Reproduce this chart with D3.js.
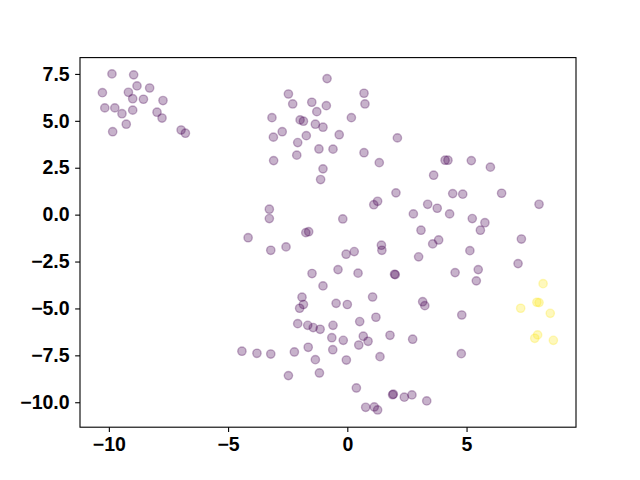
<!DOCTYPE html>
<html>
<head>
<meta charset="utf-8">
<script src="https://cdn.jsdelivr.net/npm/d3@7"></script>
<style>
  body { margin: 0; background: #fff; }
</style>
</head>
<body>
<div id="chart"></div>
<script>
var w = 640,
  h = 480;

// scatter points
var xs = [-9.87, -8.96, -8.82, -8.29, -10.27, -9.18, -9.00, -8.55, -7.73, -10.17,
  -9.75, -9.45, -9.00, -7.98, -7.77, -9.27, -9.84, -6.97, -6.79,
  -0.85, -2.47, 0.70, -2.29, -1.49, -0.88, 0.74, -1.28, -3.16, -1.98,
  -1.84, -1.34, -1.02, 0.17, -2.73, -3.10, -1.72, -0.34, 2.10, -2.08,
  -1.19, -0.60, 0.70, -2.12, -3.09, 1.34, -1.02, -1.12,
  4.10, 4.22, 5.20, 6.00, 3.62,
  2.04, 1.27, 1.11, -3.27, -3.27, 2.77, -0.19, -1.74, -1.62, -4.16,
  -3.21, -2.57, -0.05, 0.29, 1.43, 1.45, -1.48, -0.39, 0.45, 2.01,
  1.98, -1.02, -1.90, 1.06, -0.47, 0.00, -1.84, -2.00, 3.16, 3.25,
  -2.08, -1.66, -1.43, -1.14, -0.60, 0.52, 1.20, -0.65, -0.17, 0.67,
  0.87, 0.48, 1.79, 2.74, -3.79, -3.21, -2.22, -1.64, -0.61, -1.34,
  -0.04, 1.37, -2.47, -1.17, 0.38, 1.93, 1.90, 2.39, 2.71, 0.77,
  1.13, 1.27, -4.42,
  4.42, 4.84, 6.47, 8.04, 3.37, 3.77, 4.29, 5.24, 5.77, 5.58,
  3.09, 3.83, 3.58, 7.30, 5.14, 2.99, 7.16, 5.49, 4.52, 5.41,
  4.80, 4.78, 3.33,
  8.21, 7.27, 7.95, 8.04, 8.51, 7.98, 7.86, 8.64];

var ys = [7.50, 7.45, 6.86, 6.75, 6.50, 6.52, 6.18, 6.15, 6.08, 5.69,
  5.69, 5.38, 5.57, 5.46, 5.15, 4.82, 4.42, 4.51, 4.34,
  7.25, 6.43, 6.47, 5.90, 5.99, 5.81, 5.90, 5.49, 5.17, 5.05,
  4.98, 4.82, 4.66, 5.17, 4.42, 4.13, 4.21, 4.26, 4.09, 3.84,
  3.50, 3.49, 3.30, 3.17, 2.88, 2.77, 2.44, 1.87,
  2.90, 2.90, 2.88, 2.53, 2.10,
  1.16, 0.71, 0.53, 0.29, -0.21, 0.04, -0.23, -0.96, -0.91, -1.23,
  -1.90, -1.72, -2.11, -1.97, -1.63, -1.90, -3.14, -2.93, -3.12, -3.20,
  -3.18, -3.80, -4.40, -4.39, -4.73, -4.79, -4.79, -4.99, -4.64, -4.85,
  -5.81, -5.90, -6.02, -6.11, -5.90, -5.70, -5.47, -6.56, -6.70, -6.48,
  -6.75, -6.95, -6.43, -6.64, -7.39, -7.43, -7.32, -7.07, -7.20, -7.73,
  -7.75, -7.57, -8.58, -8.44, -9.24, -9.57, -9.60, -9.73, -9.61, -10.27,
  -10.25, -10.41, -7.28,
  1.12, 1.09, 1.14, 0.55, 0.55, 0.34, 0.04, -0.21, -0.43, -0.83,
  -0.83, -1.35, -1.56, -1.30, -1.92, -2.25, -2.61, -2.93, -3.09, -3.53,
  -5.35, -7.41, -9.93,
  -3.68, -4.99, -4.67, -4.69, -5.26, -6.41, -6.59, -6.70];

// class of each point: last 8 are the yellow group
var labels = xs.map(function(d, i) { return i >= xs.length - 8 ? 1 : 0; });

var xTicks = [-10, -5, 0, 5];
var yTicks = [-10, -7.5, -5, -2.5, 0, 2.5, 5, 7.5];

var mLeft = 80, mRight = 576, mTop = 57.6, mBottom = 427.2;

var x = d3.scaleLinear().domain([-11.21, 9.59]).range([mLeft, mRight]);
var y = d3.scaleLinear().domain([-11.33, 8.37]).range([mBottom, mTop]);
var color = function(c) { return c === 1 ? "#fde725" : "#440154"; };

var svg = d3.select("#chart").append("svg")
  .attr("width", w)
  .attr("height", h);

// points
svg.append("g").selectAll("circle")
  .data(xs)
  .enter()
  .append("circle")
  .attr("cx", function(d) { return x(d); })
  .attr("cy", function(d, i) { return y(ys[i]); })
  .attr("r", 4.17)
  .attr("fill", function(d, i) { return color(labels[i]); })
  .attr("fill-opacity", 0.3)
  .attr("stroke", function(d, i) { return color(labels[i]); })
  .attr("stroke-opacity", 0.3)
  .attr("stroke-width", 1.39);

var minus = function(s) { return s.replace("-", "\u2212"); };

// axes
var xAxis = d3.axisBottom(x).tickValues(xTicks).tickSize(4.86).tickPadding(4.86)
  .tickFormat(function(d) { return minus(d3.format("d")(d)); });
var yAxis = d3.axisLeft(y).tickValues(yTicks).tickSize(4.86).tickPadding(5.5)
  .tickFormat(function(d) { return minus(d3.format(".1f")(d)); });

var gx = svg.append("g").attr("transform", "translate(0," + mBottom + ")").call(xAxis);
var gy = svg.append("g").attr("transform", "translate(" + mLeft + ",0)").call(yAxis);
[gx, gy].forEach(function(g) {
  g.select(".domain").remove();
  g.selectAll(".tick line").attr("stroke", "#000").attr("stroke-width", 1.1);
  g.selectAll(".tick text")
    .style("font-family", "'Liberation Sans', Arial, sans-serif")
    .style("font-weight", "bold")
    .style("font-size", "19.5px")
    .attr("fill", "#000");
});

// frame
svg.append("rect")
  .attr("x", mLeft)
  .attr("y", mTop)
  .attr("width", mRight - mLeft)
  .attr("height", mBottom - mTop)
  .attr("fill", "none")
  .attr("stroke", "#000")
  .attr("stroke-width", 1.1);
</script>
</body>
</html>
